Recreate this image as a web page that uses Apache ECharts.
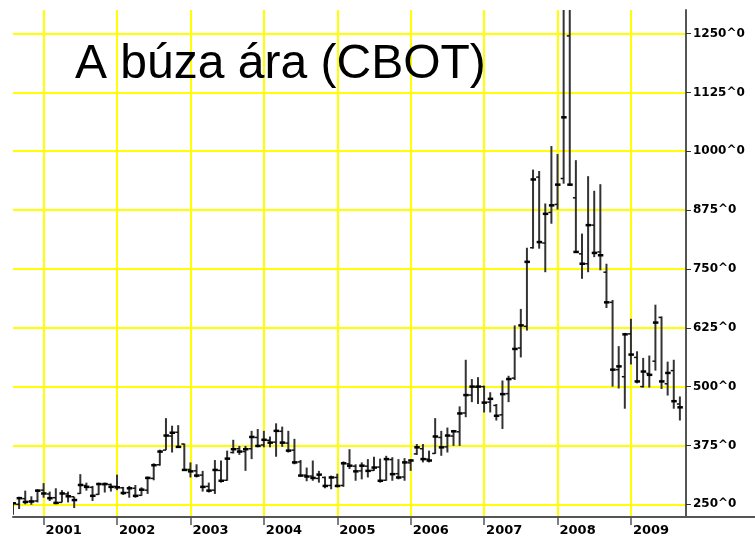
<!DOCTYPE html>
<html>
<head>
<meta charset="utf-8">
<script src="https://cdn.jsdelivr.net/npm/echarts@6/dist/echarts.min.js"></script>
<style>html,body{margin:0;padding:0;background:#fff}#c{width:755px;height:539px}</style>
</head>
<body>
<div id="c"></div>
<script>
const titleText = 'A búza ára (CBOT)';
const months = [
 '2000-08','2000-09','2000-10','2000-11','2000-12',
 '2001-01','2001-02','2001-03','2001-04','2001-05','2001-06','2001-07','2001-08','2001-09','2001-10','2001-11','2001-12',
 '2002-01','2002-02','2002-03','2002-04','2002-05','2002-06','2002-07','2002-08','2002-09','2002-10','2002-11','2002-12',
 '2003-01','2003-02','2003-03','2003-04','2003-05','2003-06','2003-07','2003-08','2003-09','2003-10','2003-11','2003-12',
 '2004-01','2004-02','2004-03','2004-04','2004-05','2004-06','2004-07','2004-08','2004-09','2004-10','2004-11','2004-12',
 '2005-01','2005-02','2005-03','2005-04','2005-05','2005-06','2005-07','2005-08','2005-09','2005-10','2005-11','2005-12',
 '2006-01','2006-02','2006-03','2006-04','2006-05','2006-06','2006-07','2006-08','2006-09','2006-10','2006-11','2006-12',
 '2007-01','2007-02','2007-03','2007-04','2007-05','2007-06','2007-07','2007-08','2007-09','2007-10','2007-11','2007-12',
 '2008-01','2008-02','2008-03','2008-04','2008-05','2008-06','2008-07','2008-08','2008-09','2008-10','2008-11','2008-12',
 '2009-01','2009-02','2009-03','2009-04','2009-05','2009-06','2009-07','2009-08','2009-09','2009-10'
];
const opens = [
 240,250,262,256,257,
 280,272,264,254,272,266,273,290,286,271,292,292,
 288,285,275,284,269,280,305,334,365,395,403,378,
 324,321,312,288,280,322,301,360,368,362,368,392,
 376,386,382,405,380,365,340,312,310,305,307,290,
 307,290,336,331,321,331,322,329,301,345,315,308,
 338,357,368,346,358,392,372,395,404,444,482,499,
 500,467,460,440,485,518,582,628,795,945,805,870,
 887,942,1245,901,782,761,843,786,743,679,536,521,
 612,562,500,528,554,647,506,534,463
];
const highs = [
 255,266,279,267,282,
 295,277,284,280,277,266,314,296,289,296,296,294,
 313,287,289,291,286,309,337,366,433,417,418,379,
 339,335,321,296,344,343,364,387,374,374,406,410,
 406,394,422,415,406,389,344,328,343,321,309,311,
 315,341,367,335,339,346,351,347,353,350,346,348,
 346,378,378,364,433,406,413,408,458,557,516,520,
 502,488,463,513,523,630,665,795,961,958,889,1011,
 994,1345,1335,981,825,947,916,930,761,684,586,614,
 644,575,561,566,674,649,553,557,479
];
const lows = [
 228,240,250,249,254,
 264,257,250,254,254,242,272,279,257,270,275,277,
 280,270,264,264,268,272,301,332,365,360,371,321,
 307,307,277,275,272,296,300,358,355,321,346,371,
 371,371,351,372,360,335,309,299,300,296,284,282,
 286,287,325,300,303,307,321,296,300,300,303,300,
 321,355,339,339,357,353,360,374,374,435,467,463,
 445,445,428,410,467,514,562,619,793,793,743,846,
 876,931,927,786,729,743,775,747,667,500,496,453,
 547,507,498,498,534,495,481,453,428
];
const closes = [
 252,263,255,256,279,
 273,263,253,273,267,259,291,287,268,293,293,287,
 286,274,284,268,281,306,333,362,396,402,372,323,
 320,311,287,279,323,300,347,367,362,367,393,374,
 387,381,406,381,364,339,311,309,306,313,289,307,
 289,337,332,320,332,321,328,300,346,314,307,339,
 343,371,346,343,394,371,396,405,443,482,500,500,
 466,474,438,484,516,580,630,765,940,807,867,885,
 929,1072,929,786,761,843,784,779,679,536,543,611,
 568,511,532,525,636,511,529,469,456
];
const yTicks = [250,375,500,625,750,875,1000,1125,1250];

const ohlc = opens.map((o, i) => [i, o, highs[i], lows[i], closes[i]]);
const isYearStart = (idx, val) => String(val).endsWith('-01');

const chart = echarts.init(document.getElementById('c'), null, {renderer: 'canvas'});
chart.setOption({
  animation: false,
  backgroundColor: '#ffffff',
  title: {
    text: titleText, left: 75, top: 41, padding: 0,
    textStyle: {fontFamily: '"Liberation Sans", Arial, sans-serif', fontSize: 48, fontWeight: 'normal', color: '#000'}
  },
  grid: {left: 13, right: 69, top: 10, bottom: 22, containLabel: false},
  xAxis: {
    type: 'category', data: months, boundaryGap: false,
    axisLine: {lineStyle: {color: '#555', width: 2}},
    axisTick: {interval: isYearStart, length: 8, lineStyle: {color: '#555', width: 1.5}},
    splitLine: {show: true, interval: isYearStart, lineStyle: {color: '#ffff00', width: 2}},
    axisLabel: {
      interval: isYearStart, formatter: v => v.slice(0, 4), align: 'left', margin: 7, padding: [0, 0, 0, 2],
      fontFamily: '"DejaVu Sans", sans-serif', fontWeight: 'bold', fontSize: 13, color: '#000'
    }
  },
  yAxis: {
    type: 'value', position: 'right', min: 223, max: 1300, scale: true,
    axisLine: {show: true, lineStyle: {color: '#555', width: 2}},
    axisTick: {show: true, customValues: yTicks, length: 5, lineStyle: {color: '#333', width: 1}},
    splitLine: {show: true, lineStyle: {color: '#ffff00', width: 2}},
    axisLabel: {
      customValues: yTicks, formatter: v => v + '^0', margin: 7,
      fontFamily: '"DejaVu Sans", sans-serif', fontWeight: 'bold', fontSize: 12, color: '#000'
    }
  },
  graphic: [{
    type: 'line', z: 10, silent: true,
    shape: {x1: 686, y1: 517, x2: 755, y2: 517},
    style: {stroke: '#555', lineWidth: 2}
  }],
  series: [{
    type: 'custom', clip: true,
    data: ohlc,
    encode: {x: 0, y: [1, 2, 3, 4]},
    renderItem: function (params, api) {
      const x = api.value(0);
      const o = api.coord([x, api.value(1)]);
      const h = api.coord([x, api.value(2)]);
      const l = api.coord([x, api.value(3)]);
      const c = api.coord([x, api.value(4)]);
      return {
        type: 'group',
        children: [
          {type: 'line', shape: {x1: h[0], y1: h[1], x2: l[0], y2: l[1]}, style: {stroke: '#333', lineWidth: 2}},
          {type: 'line', shape: {x1: o[0] - 3, y1: o[1], x2: o[0], y2: o[1]}, style: {stroke: '#111', lineWidth: 1.5}},
          {type: 'line', shape: {x1: c[0] - 2.5, y1: c[1], x2: c[0] + 3, y2: c[1]}, style: {stroke: '#000', lineWidth: 2.5}}
        ]
      };
    }
  }]
});
</script>
</body>
</html>
